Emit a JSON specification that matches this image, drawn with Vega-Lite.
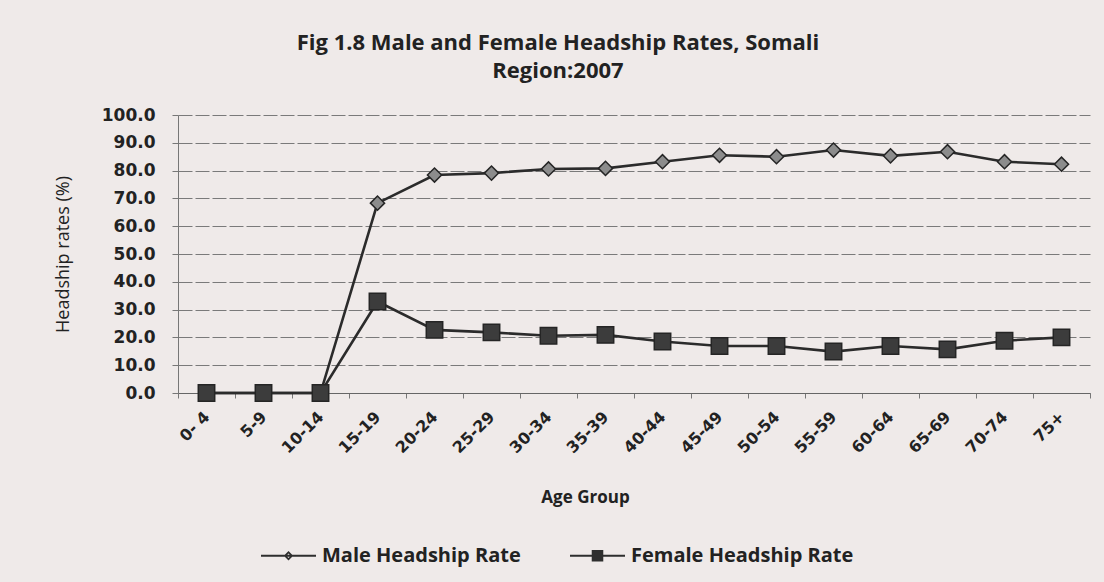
{
  "$schema": "https://vega.github.io/schema/vega-lite/v6.json",
  "autosize": "none",
  "width": 912,
  "height": 278,
  "padding": {"left": 178, "top": 115, "right": 14, "bottom": 189},
  "background": "#efeae9",
  "config": {
    "view": {"stroke": null},
    "font": "Open Sans"
  },
  "title": {
    "text": ["Fig 1.8 Male and Female Headship Rates, Somali", "Region:2007"],
    "font": "Open Sans",
    "fontSize": 22,
    "fontWeight": "bold",
    "color": "#222222",
    "lineHeight": 28,
    "anchor": "middle",
    "dx": -76,
    "offset": 23
  },
  "data": {
    "values": [
      {"age": "0- 4", "series": "Male Headship Rate", "rate": 0.0},
      {"age": "5-9", "series": "Male Headship Rate", "rate": 0.0},
      {"age": "10-14", "series": "Male Headship Rate", "rate": 0.0},
      {"age": "15-19", "series": "Male Headship Rate", "rate": 68.3},
      {"age": "20-24", "series": "Male Headship Rate", "rate": 78.4},
      {"age": "25-29", "series": "Male Headship Rate", "rate": 79.1},
      {"age": "30-34", "series": "Male Headship Rate", "rate": 80.6},
      {"age": "35-39", "series": "Male Headship Rate", "rate": 80.8},
      {"age": "40-44", "series": "Male Headship Rate", "rate": 83.2},
      {"age": "45-49", "series": "Male Headship Rate", "rate": 85.5},
      {"age": "50-54", "series": "Male Headship Rate", "rate": 85.0},
      {"age": "55-59", "series": "Male Headship Rate", "rate": 87.4},
      {"age": "60-64", "series": "Male Headship Rate", "rate": 85.3},
      {"age": "65-69", "series": "Male Headship Rate", "rate": 86.8},
      {"age": "70-74", "series": "Male Headship Rate", "rate": 83.2},
      {"age": "75+", "series": "Male Headship Rate", "rate": 82.3},
      {"age": "0- 4", "series": "Female Headship Rate", "rate": 0.0},
      {"age": "5-9", "series": "Female Headship Rate", "rate": 0.0},
      {"age": "10-14", "series": "Female Headship Rate", "rate": 0.0},
      {"age": "15-19", "series": "Female Headship Rate", "rate": 32.9},
      {"age": "20-24", "series": "Female Headship Rate", "rate": 22.7},
      {"age": "25-29", "series": "Female Headship Rate", "rate": 21.8},
      {"age": "30-34", "series": "Female Headship Rate", "rate": 20.6},
      {"age": "35-39", "series": "Female Headship Rate", "rate": 20.9},
      {"age": "40-44", "series": "Female Headship Rate", "rate": 18.5},
      {"age": "45-49", "series": "Female Headship Rate", "rate": 16.9},
      {"age": "50-54", "series": "Female Headship Rate", "rate": 16.9},
      {"age": "55-59", "series": "Female Headship Rate", "rate": 14.9},
      {"age": "60-64", "series": "Female Headship Rate", "rate": 16.9},
      {"age": "65-69", "series": "Female Headship Rate", "rate": 15.7},
      {"age": "70-74", "series": "Female Headship Rate", "rate": 18.8},
      {"age": "75+", "series": "Female Headship Rate", "rate": 20.0}
    ]
  },
  "encoding": {
    "x": {
      "field": "age",
      "type": "ordinal",
      "sort": null,
      "scale": {"type": "band", "paddingInner": 0, "paddingOuter": 0},
      "axis": {
        "title": "Age Group",
        "titleFont": "Open Sans",
        "titleFontSize": 17,
        "titleFontWeight": "bold",
        "titleColor": "#222222",
        "titleX": 407,
        "titleY": 104,
        "titleBaseline": "middle",
        "labelAngle": -45,
        "labelAlign": "right",
        "labelBaseline": "middle",
        "labelFont": "DejaVu Sans",
        "labelFontWeight": "bold",
        "labelFontSize": 16,
        "labelColor": "#222222",
        "labelPadding": 16,
        "tickBand": "extent",
        "tickSize": 5,
        "tickColor": "#777777",
        "domainColor": "#666666",
        "domainWidth": 1.2,
        "grid": false
      }
    },
    "y": {
      "field": "rate",
      "type": "quantitative",
      "scale": {"domain": [0, 100], "nice": false},
      "axis": {
        "values": [0, 10, 20, 30, 40, 50, 60, 70, 80, 90, 100],
        "format": ".1f",
        "title": "Headship rates (%)",
        "titleFont": "Open Sans",
        "titleFontSize": 18,
        "titleFontWeight": "normal",
        "titleColor": "#222222",
        "titleAngle": -90,
        "titleX": -115,
        "titleY": 139,
        "titleAlign": "center",
        "titleBaseline": "middle",
        "labelFont": "DejaVu Sans",
        "labelFontWeight": "bold",
        "labelFontSize": 17,
        "labelColor": "#222222",
        "labelPadding": 17,
        "tickSize": 6,
        "tickColor": "#777777",
        "domainColor": "#777777",
        "grid": true,
        "gridColor": "#7a7a7a",
        "gridWidth": 1,
        "gridDash": [14, 3]
      }
    }
  },
  "layer": [
    {
      "mark": {"type": "line", "strokeWidth": 2.6, "color": "#2b2b2b"},
      "encoding": {
        "detail": {"field": "series"}
      }
    },
    {
      "mark": {"type": "point", "filled": true, "strokeWidth": 1.5, "opacity": 1, "stroke": "#252525"},
      "encoding": {
        "shape": {
          "field": "series",
          "type": "nominal",
          "scale": {"domain": ["Male Headship Rate", "Female Headship Rate"], "range": ["diamond", "square"]},
          "legend": null
        },
        "fill": {
          "field": "series",
          "type": "nominal",
          "scale": {"domain": ["Male Headship Rate", "Female Headship Rate"], "range": ["#8c8c8c", "#3c3c3c"]},
          "legend": null
        },
        "size": {
          "field": "series",
          "type": "nominal",
          "scale": {"domain": ["Male Headship Rate", "Female Headship Rate"], "range": [200, 270]},
          "legend": null
        }
      }
    },
    {
      "transform": [{"filter": "false"}],
      "mark": {"type": "point", "filled": true, "size": 3025, "opacity": 1, "fill": "#2e2e2e"},
      "encoding": {
        "shape": {
          "field": "series",
          "type": "nominal",
          "scale": {
            "domain": ["Male Headship Rate", "Female Headship Rate"],
            "range": [
              "M-1,-0.04L1,-0.04L1,0.04L-1,0.04ZM0,-0.17L0.17,0L0,0.17L-0.17,0ZM0,-0.08L-0.08,0L0,0.08L0.08,0Z",
              "M-1,-0.04L1,-0.04L1,0.04L-1,0.04ZM-0.21,-0.21L0.21,-0.21L0.21,0.21L-0.21,0.21Z"
            ]
          },
          "legend": {
            "title": null,
            "orient": "none",
            "direction": "horizontal",
            "legendX": 82,
            "legendY": 412,
            "labelFont": "Open Sans",
            "labelFontSize": 20,
            "labelFontWeight": "bold",
            "labelColor": "#222222",
            "labelLimit": 400,
            "labelOffset": 5,
            "columnPadding": 46,
            "symbolSize": 3025,
            "symbolFillColor": "#2e2e2e",
            "symbolOpacity": 1
          }
        }
      }
    }
  ],
  "resolve": {"scale": {"shape": "independent"}}
}
